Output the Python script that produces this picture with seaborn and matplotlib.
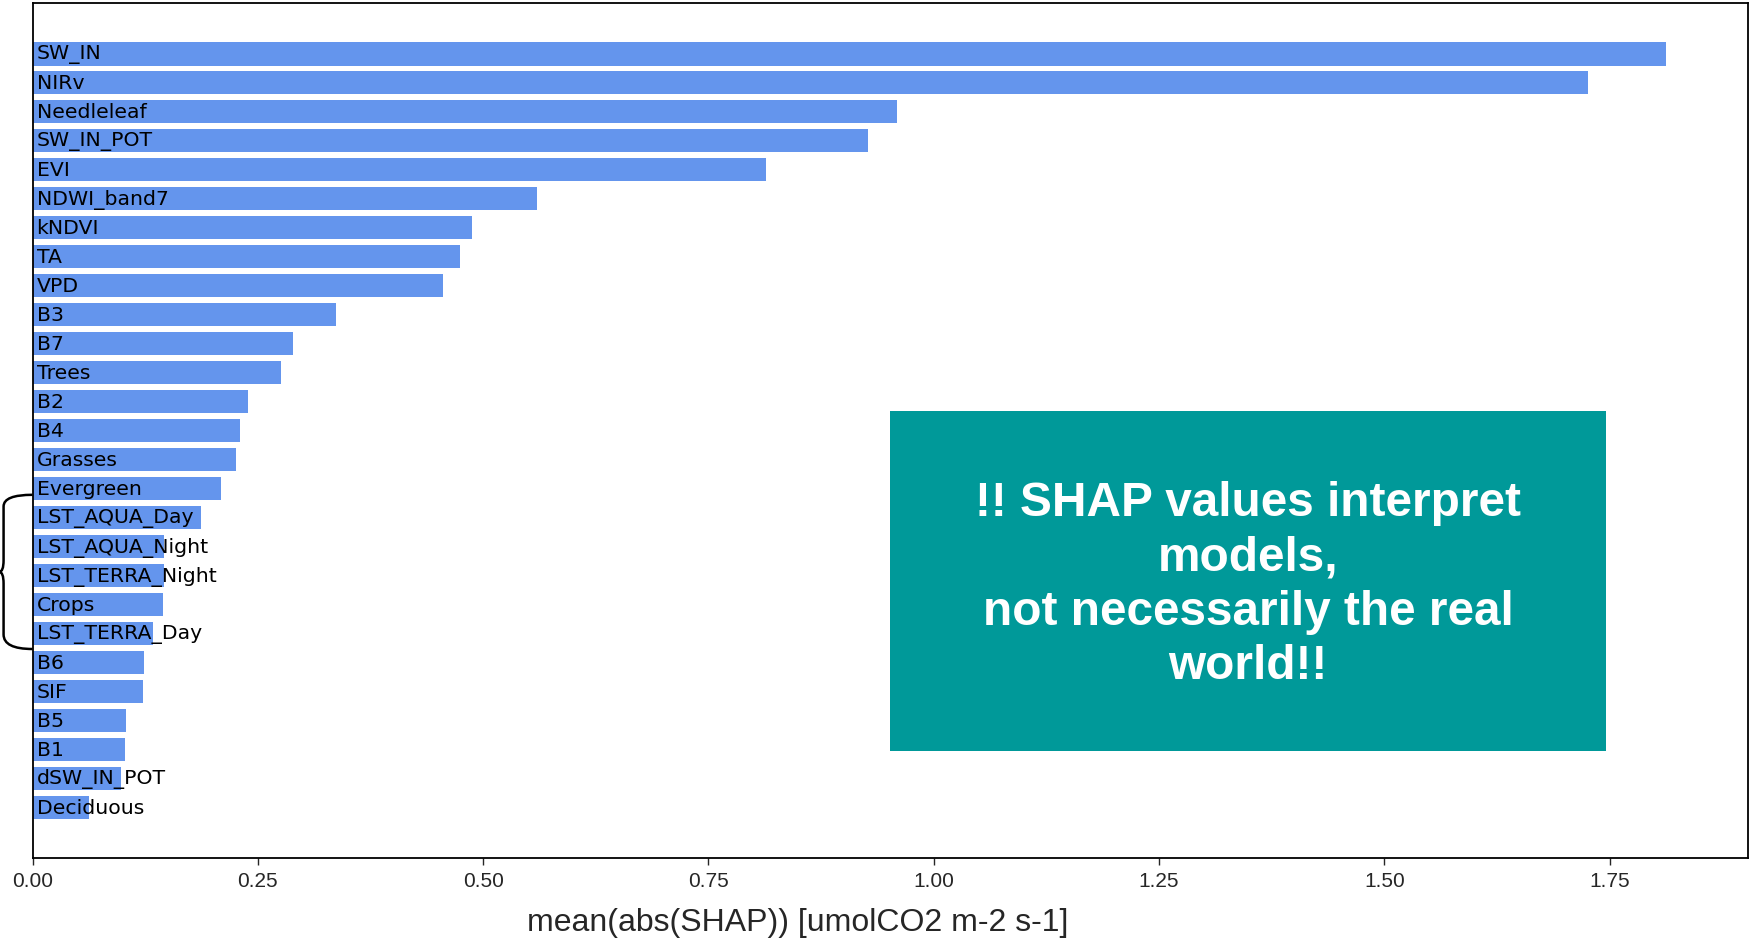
import matplotlib
matplotlib.use("Agg")
import matplotlib.pyplot as plt
import seaborn as sns
import pandas as pd
from matplotlib.path import Path
from matplotlib.patches import PathPatch, Rectangle
from matplotlib.transforms import blended_transform_factory

features = [
    "SW_IN", "NIRv", "Needleleaf", "SW_IN_POT", "EVI", "NDWI_band7", "kNDVI",
    "TA", "VPD", "B3", "B7", "Trees", "B2", "B4", "Grasses", "Evergreen",
    "LST_AQUA_Day", "LST_AQUA_Night", "LST_TERRA_Night", "Crops",
    "LST_TERRA_Day", "B6", "SIF", "B5", "B1", "dSW_IN_POT", "Deciduous",
]
mean_abs_shap = [
    1.813, 1.726, 0.959, 0.927, 0.814, 0.560, 0.488,
    0.474, 0.455, 0.337, 0.289, 0.276, 0.239, 0.230, 0.226, 0.209,
    0.187, 0.146, 0.146, 0.145,
    0.134, 0.124, 0.123, 0.104, 0.103, 0.098, 0.063,
]
x_label = "mean(abs(SHAP)) [umolCO2 m-2 s-1]"
note_text = "!! SHAP values interpret\nmodels,\nnot necessarily the real\nworld!!"
lst_first, lst_last = "Evergreen", "LST_TERRA_Day"

df = pd.DataFrame({"feature": features, "value": mean_abs_shap})

sns.set_style("white")
fig = plt.figure(figsize=(17.51, 9.41), dpi=100)
ax = fig.add_axes([0.0186, 0.0882, 0.9797, 0.9081])

sns.barplot(data=df, x="value", y="feature", orient="h", color="cornflowerblue",
            saturation=1, width=0.8, linewidth=0, ax=ax)

n = len(features)
pad = 0.05 * (n - 1 + 0.8)
ax.set_ylim(n - 1 + 0.4 + pad, -0.4 - pad)
ax.set_xlim(0, max(mean_abs_shap) * 1.05)

# feature names written inside the bars
for i, name in enumerate(features):
    ax.text(0.0045, i + 0.03, name, va="center", ha="left", fontsize=14.7,
            family="DejaVu Sans", color="black")

ax.set_yticks([])
ax.set_ylabel("")
ax.set_xticks([0, 0.25, 0.5, 0.75, 1.0, 1.25, 1.5, 1.75])
ax.set_xticklabels(["0.00", "0.25", "0.50", "0.75", "1.00", "1.25", "1.50", "1.75"],
                   family="Liberation Sans", fontsize=15)
ax.tick_params(axis="x", direction="out", length=5, width=1, pad=5, bottom=True)
for sp in ax.spines.values():
    sp.set_visible(True)
    sp.set_color("black")
    sp.set_linewidth(1.3)

ax.set_xlabel(x_label, family="Liberation Sans", fontsize=23)
ax.xaxis.set_label_coords(0.446, -0.076)
ax.xaxis.label.set_va("center")

# curly brace grouping the LST features
trans = blended_transform_factory(ax.transAxes, ax.transData)
y0 = features.index(lst_first) + 0.21
y1 = features.index(lst_last) + 0.53
ym = (y0 + y1) / 2
xb, xt = -0.0169, -0.0195
verts = [
    (0, y0), (xb, y0), (xb, y0 + 0.4),
    (xb, ym - 0.4),
    (xb, ym), (xt, ym),
    (xb, ym), (xb, ym + 0.4),
    (xb, y1 - 0.5),
    (xb, y1), (0, y1),
]
codes = [
    Path.MOVETO, Path.CURVE3, Path.CURVE3,
    Path.LINETO,
    Path.CURVE3, Path.CURVE3,
    Path.CURVE3, Path.CURVE3,
    Path.LINETO,
    Path.CURVE3, Path.CURVE3,
]
brace = PathPatch(Path(verts, codes), transform=trans, fill=False,
                  edgecolor="black", linewidth=1.8, clip_on=False)
ax.add_patch(brace)

# note box
fig.patches.append(Rectangle((0.5083, 0.2019), 0.4089, 0.3613,
                             transform=fig.transFigure, facecolor="#009999",
                             edgecolor="none", zorder=5))
fig.text(0.7127, 0.3780, note_text, ha="center", va="center", color="white",
         fontsize=34.4, fontweight="bold", family="Liberation Sans",
         linespacing=1.27, zorder=6)

fig.savefig("out.png", dpi=100)
